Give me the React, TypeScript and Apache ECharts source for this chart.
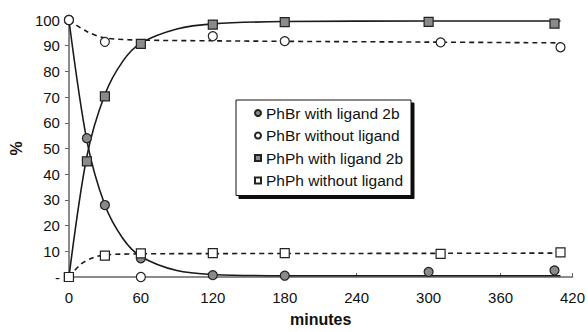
import React, { useEffect, useRef } from "react";
import * as echarts from "echarts";

// measured points
const brWithT = [0, 15, 30, 60, 120, 180, 300, 405];
const brWithV = [100, 54, 28, 7.3, 0.7, 0.5, 2, 2.6];
const brWithoutT = [0, 30, 60, 120, 180, 310, 410];
const brWithoutV = [100, 91.5, 0, 93.7, 91.8, 91.3, 89.4];
const phWithT = [0, 15, 30, 60, 120, 180, 300, 405];
const phWithV = [0, 45, 70.3, 90.7, 98.2, 99.2, 99.3, 98.6];
const phWithoutT = [0, 30, 60, 120, 180, 310, 410];
const phWithoutV = [0, 8.3, 9.2, 9.3, 9.3, 9.0, 9.6];

// fitted trend curves
const brWithFitT = [0, 15, 30, 45, 60, 90, 120, 180, 300, 410];
const brWithFitV = [100, 53, 28, 15, 8, 2.5, 1, 0.5, 0.5, 0.5];
const phWithFitT = [0, 15, 30, 45, 60, 90, 120, 180, 300, 410];
const phWithFitV = [0, 47, 71, 84, 91, 96.5, 98.5, 99.4, 99.6, 99.6];
const brWithoutFitT = [0, 15, 30, 60, 120, 180, 300, 410];
const brWithoutFitV = [100, 95.5, 93, 92.2, 91.9, 91.7, 91.4, 91.1];
const phWithoutFitT = [0, 10, 20, 30, 60, 120, 300, 410];
const phWithoutFitV = [0, 5, 7.5, 8.6, 9, 9.1, 9.2, 9.3];

const seriesNames = [
  "PhBr with ligand 2b",
  "PhBr without ligand",
  "PhPh with ligand 2b",
  "PhPh without ligand",
];

const xTicks = { min: 0, max: 420, interval: 60 };
const yTicks = { min: 0, max: 100, interval: 10 };

const zip = (t: number[], v: number[]) => t.map((x, i) => [x, v[i]]);

export default function App() {
  const ref = useRef<HTMLDivElement>(null);
  useEffect(() => {
    if (!ref.current) return;
    const chart = echarts.init(ref.current, null, { renderer: "svg" });
    const font = "Liberation Sans, Arial, sans-serif";
    const lineStyleSolid = { color: "#1a1a1a", width: 1.6, type: "solid" as const };
    const lineStyleDash = { color: "#1a1a1a", width: 1.6, type: [5, 4] as any };
    const fit = (t: number[], v: number[], dashed: boolean) => ({
      type: "line",
      data: zip(t, v),
      smooth: 0.3,
      showSymbol: false,
      symbol: "none",
      lineStyle: dashed ? lineStyleDash : lineStyleSolid,
      z: 1,
      silent: true,
    });
    const pts = (name: string, t: number[], v: number[], symbol: string, filled: boolean, size: number) => ({
      type: "scatter",
      name,
      data: zip(t, v),
      symbol,
      symbolSize: size,
      itemStyle: {
        color: filled ? "#8a8a8a" : "#ffffff",
        borderColor: "#222",
        borderWidth: 1.2,
        opacity: 1,
      },
      z: 3,
    });
    chart.setOption({
      animation: false,
      backgroundColor: "#ffffff",
      textStyle: { fontFamily: font },
      grid: { left: 68, right: 13, top: 20, bottom: 47, containLabel: false },
      legend: {
        data: seriesNames,
        orient: "vertical",
        left: 236,
        top: 100,
        itemGap: 6.5,
        itemWidth: 6,
        itemHeight: 6,
        padding: [5, 8, 7, 18],
        backgroundColor: "#ffffff",
        borderColor: "#111",
        borderWidth: 1,
        borderRadius: 0,
        shadowColor: "#111",
        shadowBlur: 0,
        shadowOffsetX: 3,
        shadowOffsetY: 3,
        textStyle: { fontFamily: font, fontSize: 15.5, color: "#111" },
      },
      xAxis: {
        type: "value",
        min: xTicks.min,
        max: xTicks.max,
        interval: xTicks.interval,
        name: "minutes",
        nameLocation: "middle",
        nameGap: 34,
        nameTextStyle: { fontFamily: font, fontSize: 16, fontWeight: "bold", color: "#111" },
        axisLine: { lineStyle: { color: "#666", width: 1.5 } },
        axisTick: { inside: true, length: 4, lineStyle: { color: "#666" } },
        axisLabel: { fontFamily: font, fontSize: 15, color: "#111", margin: 13 },
        splitLine: { show: false },
      },
      yAxis: {
        type: "value",
        min: yTicks.min,
        max: yTicks.max,
        interval: yTicks.interval,
        name: "%",
        nameLocation: "middle",
        nameGap: 44,
        nameRotate: 90,
        nameTextStyle: { fontFamily: font, fontSize: 16, fontWeight: "bold", color: "#111" },
        axisLine: { show: true, lineStyle: { color: "#666", width: 1.5 } },
        axisTick: { show: true, inside: false, length: 4, lineStyle: { color: "#666" } },
        axisLabel: {
          fontFamily: font,
          fontSize: 15,
          color: "#111",
          margin: 9,
          formatter: (v: number) => (v === 0 ? "-" : String(v)),
        },
        splitLine: { show: false },
      },
      series: [
        fit(brWithoutFitT, brWithoutFitV, true),
        fit(phWithoutFitT, phWithoutFitV, true),
        fit(brWithFitT, brWithFitV, false),
        fit(phWithFitT, phWithFitV, false),
        pts(seriesNames[0], brWithT, brWithV, "circle", true, 9),
        pts(seriesNames[1], brWithoutT, brWithoutV, "circle", false, 9),
        pts(seriesNames[2], phWithT, phWithV, "rect", true, 9),
        pts(seriesNames[3], phWithoutT, phWithoutV, "rect", false, 9),
      ],
    });
    return () => chart.dispose();
  }, []);
  return <div ref={ref} style={{ width: 588, height: 332, position: "absolute", left: 0, top: 0 }} />;
}
